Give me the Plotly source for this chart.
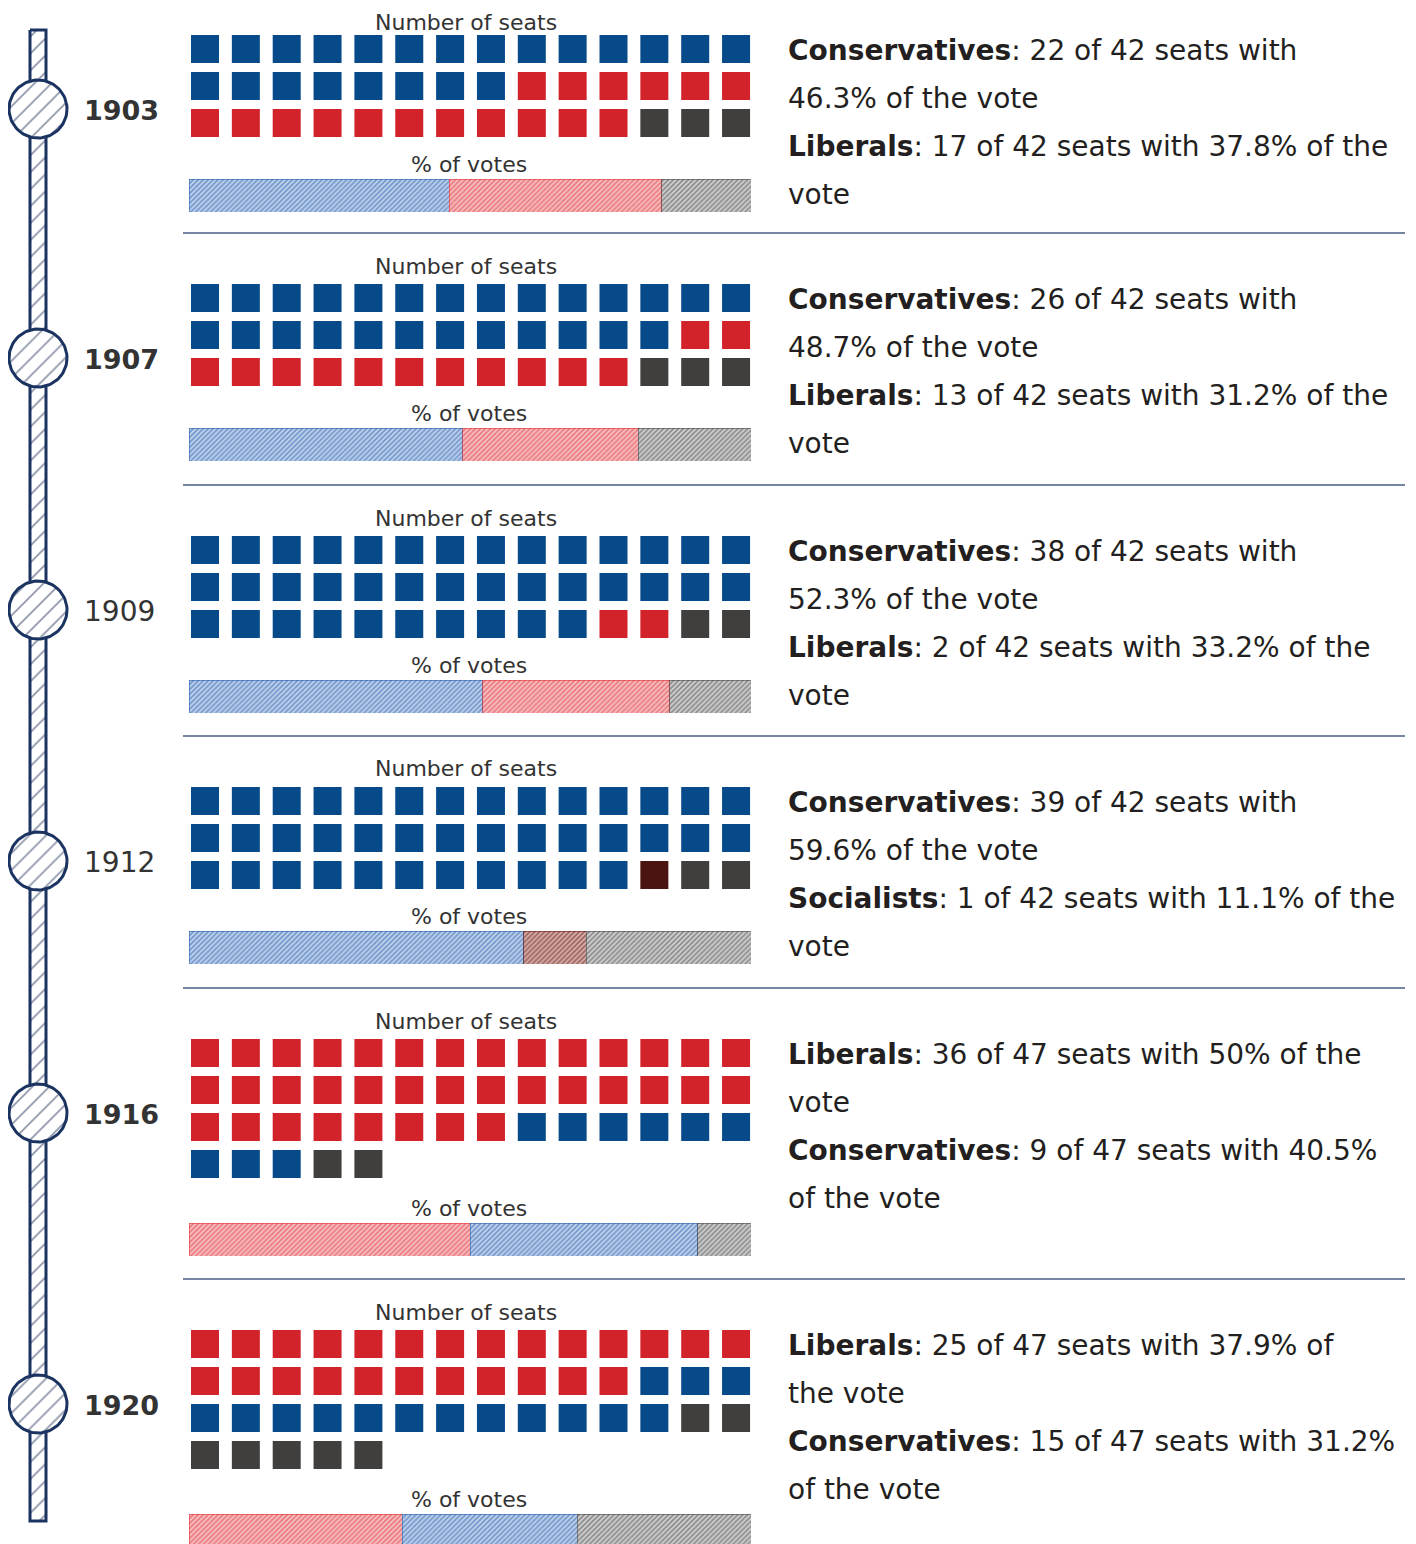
import numpy as np
import plotly.graph_objects as go

W, H = 1416, 1544
OFF = 8  # page body margin in the browser

# ---------------- data ----------------
YEARS = ["1903", "1907", "1909", "1912", "1916", "1920"]
YEAR_BOLD = [True, True, False, False, True, True]
TOTAL_SEATS = [42, 42, 42, 42, 47, 47]
SEAT_PARTIES = [
    ["Conservatives", "Liberals", "Others"],
    ["Conservatives", "Liberals", "Others"],
    ["Conservatives", "Liberals", "Others"],
    ["Conservatives", "Socialists", "Others"],
    ["Liberals", "Conservatives", "Others"],
    ["Liberals", "Conservatives", "Others"],
]
SEAT_COUNTS = [
    [22, 17, 3],
    [26, 13, 3],
    [38, 2, 2],
    [39, 1, 2],
    [36, 9, 2],
    [25, 15, 7],
]
VOTE_PCT = [
    [46.3, 37.8, 15.9],
    [48.7, 31.2, 20.1],
    [52.3, 33.2, 14.5],
    [59.6, 11.1, 29.3],
    [50.0, 40.5, 9.5],
    [37.9, 31.2, 30.9],
]
TEXT_LINES = [
    ["<b>Conservatives</b>: 22 of 42 seats with", "46.3% of the vote",
     "<b>Liberals</b>: 17 of 42 seats with 37.8% of the", "vote"],
    ["<b>Conservatives</b>: 26 of 42 seats with", "48.7% of the vote",
     "<b>Liberals</b>: 13 of 42 seats with 31.2% of the", "vote"],
    ["<b>Conservatives</b>: 38 of 42 seats with", "52.3% of the vote",
     "<b>Liberals</b>: 2 of 42 seats with 33.2% of the", "vote"],
    ["<b>Conservatives</b>: 39 of 42 seats with", "59.6% of the vote",
     "<b>Socialists</b>: 1 of 42 seats with 11.1% of the", "vote"],
    ["<b>Liberals</b>: 36 of 47 seats with 50% of the", "vote",
     "<b>Conservatives</b>: 9 of 47 seats with 40.5%", "of the vote"],
    ["<b>Liberals</b>: 25 of 47 seats with 37.9% of", "the vote",
     "<b>Conservatives</b>: 15 of 47 seats with 31.2%", "of the vote"],
]
SEATS_TITLE = "Number of seats"
VOTES_TITLE = "% of votes"

# ---------------- styles ----------------
SQUARE_COLOR = {"Conservatives": "#074a8a", "Liberals": "#d2232a",
                "Socialists": "#4b1410", "Others": "#403f3d"}
PATTERN_FG = {"Conservatives": "#2a62ad", "Liberals": "#e2363c",
              "Socialists": "#6b1a14", "Others": "#4a4a4a"}
PATTERN_BG = {"Conservatives": "#c4d5ee", "Liberals": "#f7c4c6",
              "Socialists": "#d8b4ae", "Others": "#d4d4d4"}
NAVY = "#1b3360"
HATCH = "#24345a"
FONT = "DejaVu Sans"
TXT = "#231f20"
COLS = 14

TITLE_Y = [17, 266, 518, 769, 1021, 1312]
X_FIRST, X_STEP = 205, 40.85
ROW_STEP = 37
BAR_X0, BAR_X1 = 189, 751
BAR_H = 33

FW, FH = W - OFF, H - OFF


def fx(px):
    return min(max((px - OFF) / FW, 0.0), 1.0)


def fy(py):
    return min(max(1 - (py - OFF) / FH, 0.0), 1.0)


fig = go.Figure()
layout_axes = {}

# pixel-space axis for timeline decorations
layout_axes["xaxis"] = dict(domain=[0, 1], range=[OFF, W], visible=False, fixedrange=True)
layout_axes["yaxis"] = dict(domain=[0, 1], range=[H, OFF], visible=False, fixedrange=True)

annotations = []
shapes = []

# timeline bar
tl_x0, tl_x1, tl_y0, tl_y1 = 30, 46, 30, 1521
fig.add_trace(go.Scatter(
    x=[tl_x0, tl_x1, tl_x1, tl_x0, tl_x0], y=[tl_y0, tl_y0, tl_y1, tl_y1, tl_y0],
    mode="lines", fill="toself", fillcolor="white",
    fillpattern=dict(shape="/", size=12, solidity=0.16, fgcolor=HATCH, bgcolor="white"),
    line=dict(color=NAVY, width=3), xaxis="x", yaxis="y", hoverinfo="skip", showlegend=False))

theta = np.linspace(0, 2 * np.pi, 97)
ax_n = 2
for i, year in enumerate(YEARS):
    ty = TITLE_Y[i]
    nrows = int(np.ceil(TOTAL_SEATS[i] / COLS))
    row0 = ty + 32
    votes_label_y = row0 + 115 + (nrows - 3) * 40
    bar_top = votes_label_y + 15
    bar_h = min(BAR_H, H - bar_top)
    circ_y = ty + 92

    # timeline circle
    r = 29
    fig.add_trace(go.Scatter(
        x=38 + r * np.cos(theta), y=circ_y + r * np.sin(theta),
        mode="lines", fill="toself", fillcolor="white",
        fillpattern=dict(shape="/", size=12, solidity=0.15, fgcolor=HATCH, bgcolor="white"),
        line=dict(color=NAVY, width=3), xaxis="x", yaxis="y", hoverinfo="skip", showlegend=False))
    annotations.append(dict(
        x=fx(82), y=fy(circ_y + 1), xref="paper", yref="paper", xanchor="left", yanchor="middle",
        text=f"<b>{year}</b>" if YEAR_BOLD[i] else year, showarrow=False,
        font=dict(family=FONT, size=27 if YEAR_BOLD[i] else 28, color="#333333")))

    # waffle subplot
    xa, ya = f"x{ax_n}", f"y{ax_n}"
    xd0 = X_FIRST - X_STEP / 2
    xd1 = X_FIRST + X_STEP * (COLS - 0.5)
    yd0 = row0 - ROW_STEP / 2
    yd1 = yd0 + nrows * ROW_STEP
    layout_axes[f"xaxis{ax_n}"] = dict(domain=[fx(xd0), fx(xd1)], range=[-0.5, COLS - 0.5],
                                       visible=False, fixedrange=True, anchor=ya)
    layout_axes[f"yaxis{ax_n}"] = dict(domain=[fy(yd1), fy(yd0)], range=[nrows - 0.5, -0.5],
                                       visible=False, fixedrange=True, anchor=xa)
    k = 0
    for party, n in zip(SEAT_PARTIES[i], SEAT_COUNTS[i]):
        idx = np.arange(k, k + n)
        k += n
        fig.add_trace(go.Scatter(
            x=idx % COLS, y=idx // COLS, mode="markers",
            marker=dict(symbol="square", size=28, color=SQUARE_COLOR[party], line=dict(width=0)),
            xaxis=xa, yaxis=ya, name=party, hoverinfo="skip", showlegend=False))
    ax_n += 1

    # vote bar subplot
    xa, ya = f"x{ax_n}", f"y{ax_n}"
    layout_axes[f"xaxis{ax_n}"] = dict(domain=[fx(BAR_X0), fx(BAR_X1)], range=[0, 100],
                                       visible=False, fixedrange=True, anchor=ya)
    layout_axes[f"yaxis{ax_n}"] = dict(domain=[fy(bar_top + bar_h), fy(bar_top)], range=[-0.5, 0.5],
                                       visible=False, fixedrange=True, anchor=xa)
    for party, p in zip(SEAT_PARTIES[i], VOTE_PCT[i]):
        fig.add_trace(go.Bar(
            x=[p], y=[0], orientation="h", width=1,
            marker=dict(color=PATTERN_BG[party],
                        pattern=dict(shape="/", size=3.5, solidity=0.55,
                                     fgcolor=PATTERN_FG[party], bgcolor=PATTERN_BG[party]),
                        line=dict(width=0.6, color=PATTERN_FG[party])),
            xaxis=xa, yaxis=ya, name=party, hoverinfo="skip", showlegend=False))
    ax_n += 1

    # titles
    annotations.append(dict(
        x=fx(466), y=fy(max(ty, OFF + 14)), xref="paper", yref="paper", xanchor="center",
        yanchor="middle", borderpad=0,
        text=SEATS_TITLE, showarrow=False, font=dict(family=FONT, size=22, color="#333333")))
    annotations.append(dict(
        x=fx(469), y=fy(votes_label_y), xref="paper", yref="paper", xanchor="center",
        yanchor="middle", borderpad=0,
        text=VOTES_TITLE, showarrow=False, font=dict(family=FONT, size=22, color="#333333")))

    # description text
    for j, line in enumerate(TEXT_LINES[i]):
        annotations.append(dict(
            x=fx(786), y=fy(ty + 33 + 48 * j), xref="paper", yref="paper",
            xanchor="left", yanchor="middle", text=line, showarrow=False,
            font=dict(family=FONT, size=28, color=TXT)))

    # separator
    if i < len(YEARS) - 1:
        sy = TITLE_Y[i + 1] - 33
        shapes.append(dict(type="line", xref="paper", yref="paper",
                           x0=fx(183), x1=fx(1405), y0=fy(sy), y1=fy(sy),
                           line=dict(color="#7586a3", width=2)))

fig.update_layout(
    width=FW, height=FH, margin=dict(l=0, r=0, t=0, b=0),
    paper_bgcolor="white", plot_bgcolor="rgba(0,0,0,0)",
    barmode="stack", showlegend=False,
    annotations=annotations, shapes=shapes,
    **layout_axes)

fig.write_html("out.html", config={"displayModeBar": False})
